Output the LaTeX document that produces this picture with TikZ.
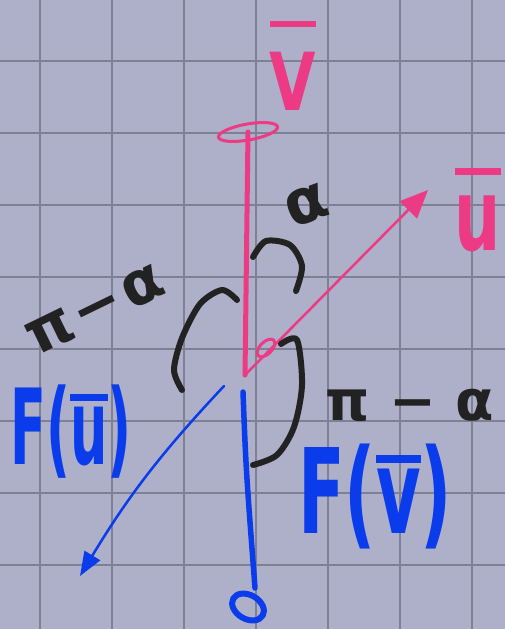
\documentclass[tikz,border=0pt]{standalone}
\usepackage{fontspec}
\setmainfont{DejaVu Sans}
\usetikzlibrary{arrows.meta}

\definecolor{paper}{HTML}{ADB0C8}
\definecolor{gridline}{HTML}{7E8094}
\definecolor{vpink}{HTML}{EC3A84}
\definecolor{vblue}{HTML}{0A3CEB}
\definecolor{ink}{HTML}{222222}

% Strich ueber einem Buchstaben
\newcommand\barred[2]{\leavevmode\vbox{\hrule height 0.07em\kern#1\hbox{#2}}}

\tikzset{
	pinkpen/.style={draw=vpink, line width=#1, line cap=round, line join=round},
	bluepen/.style={draw=vblue, line width=#1, line cap=round, line join=round},
	inkpen/.style={draw=ink, line width=#1, line cap=round, line join=round},
	fsize/.style={inner sep=0pt, font=\fontsize{#1}{#1}\selectfont\bfseries}
}

\begin{document}
\begin{tikzpicture}[x=1pt, y=-1pt]
	\useasboundingbox (0,0) rectangle (505,629);
	% Karopapier
	\fill[paper] (0,0) rectangle (505,629);
	\foreach \gx in {40,112,...,472} \draw[gridline, line width=2pt] (\gx,0) -- (\gx,629);
	\foreach \gy in {61,133,...,565} \draw[gridline, line width=2pt] (0,\gy) -- (505,\gy);
	
	% Vektoren u und v
	\coordinate (O) at (245,375);
	\coordinate (vtip) at (248,132);
	\coordinate (utip) at (428,190);
	\draw[pinkpen=5pt] (O) -- (vtip);
	\draw[pinkpen=3pt] (vtip) ellipse [x radius=30pt, y radius=8pt, rotate=10];
	\draw[pinkpen=2.5pt, -{Triangle[length=28pt,width=24pt]}] (O) -- (utip);
	\draw[pinkpen=3pt] (266,348) ellipse [x radius=11pt, y radius=6pt, rotate=45];
	\node[fsize=80, anchor=base, text=vpink, xscale=0.75] (vlab) at (293,110) {\barred{25pt}{V}};
	\node[fsize=100, anchor=base, text=vpink, xscale=0.65] (ulab) at (478,250) {\barred{20pt}{u}};
	
	% Bilder F(u) und F(v)
	\coordinate (fvtop) at (243,392);
	\coordinate (fvend) at (255,588);
	\coordinate (futop) at (224,386);
	\coordinate (futip) at (80,576);
	\draw[bluepen=5.5pt] (fvtop) .. controls (246,470) .. (fvend);
	\draw[bluepen=6pt] (248,607) ellipse [x radius=17pt, y radius=12pt, rotate=-30];
	\draw[bluepen=2.5pt, -{Triangle[length=24pt,width=18pt]}] (futop) to[bend right=6] (futip);
	\node[fsize=105, text=vblue, xscale=0.5] (fulab) at (71,432) {F(\barred{6pt}{u})};
	\node[fsize=118, text=vblue, xscale=0.58] (fvlab) at (375,497) {F(\barred{6pt}{v})};
	
	% Winkel
	\draw[inkpen=6pt] plot[smooth] coordinates {(253,257) (266,241) (290,245) (302,266) (296,291)};
	\draw[inkpen=6pt] plot[smooth] coordinates {(237,300) (222,290) (200,304) (182,338) (174,370) (182,390)};
	\draw[inkpen=6pt] plot[smooth] coordinates {(281,344) (297,340) (302,385) (294,427) (277,455) (253,465)};
	\node[fsize=62, text=ink, rotate=20] (alab) at (307,205) {α};
	\node[fsize=60, text=ink, rotate=26] (pilab) at (95,310) {π\kern4pt−\kern4ptα};
	\node[fsize=56, text=ink] (pirlab) at (410,405) {π − α};
\end{tikzpicture}
\end{document}
